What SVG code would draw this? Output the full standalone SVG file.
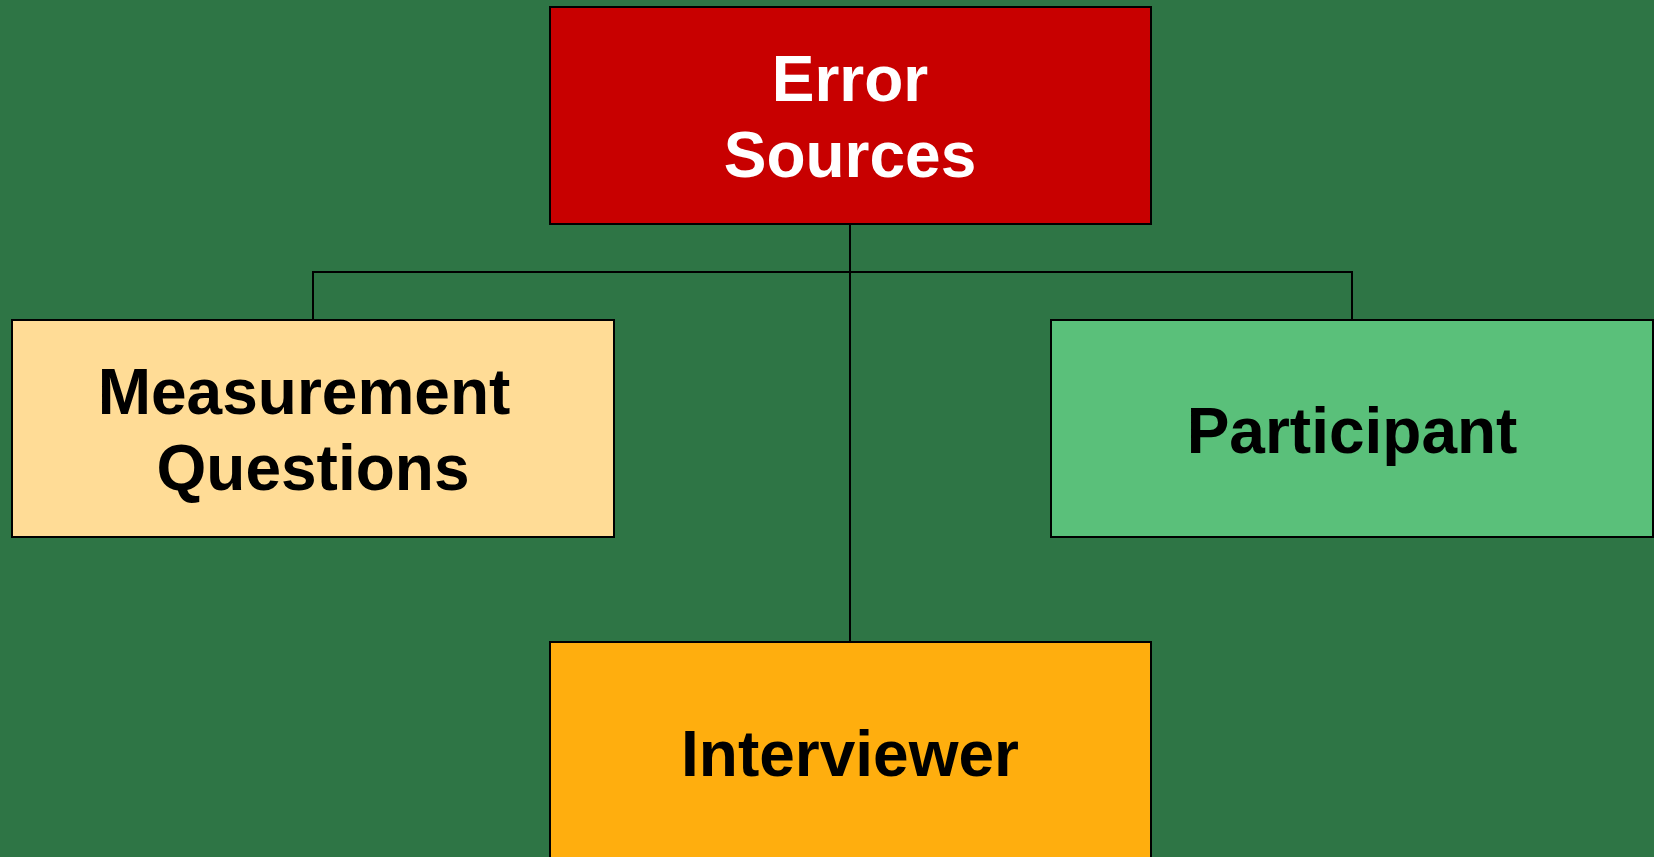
<svg xmlns="http://www.w3.org/2000/svg" width="1654" height="857" viewBox="0 0 1654 857">
  <style>
    .box { stroke: #000; stroke-width: 2; }
    .label { font-family: "Liberation Sans", Arial, sans-serif; font-weight: bold; font-size: 64px; text-anchor: middle; }
    .conn { stroke: #000; stroke-width: 2; fill: none; }
  </style>
  <rect x="0" y="0" width="1654" height="857" fill="#2E7545"/>

  <!-- tree connectors -->
  <g id="connectors">
    <path class="conn" d="M850,224 V642"/>
    <path class="conn" d="M313,320 V272 H1352 V320"/>
  </g>

  <g id="error-sources">
    <rect class="box" x="550" y="7" width="601" height="217" fill="#C80000"/>
    <text class="label" x="850" y="101" fill="#FFFFFF">Error</text>
    <text class="label" x="850" y="177" fill="#FFFFFF">Sources</text>
  </g>

  <g id="measurement-questions">
    <rect class="box" x="12" y="320" width="602" height="217" fill="#FFDC96"/>
    <text class="label" x="304" y="414" fill="#000">Measurement</text>
    <text class="label" x="313" y="490" fill="#000">Questions</text>
  </g>

  <g id="participant">
    <rect class="box" x="1051" y="320" width="602" height="217" fill="#5AC07A"/>
    <text class="label" x="1352" y="453" fill="#000">Participant</text>
  </g>

  <g id="interviewer">
    <rect class="box" x="550" y="642" width="601" height="220" fill="#FFAE0E"/>
    <text class="label" x="850" y="776" fill="#000">Interviewer</text>
  </g>
</svg>
